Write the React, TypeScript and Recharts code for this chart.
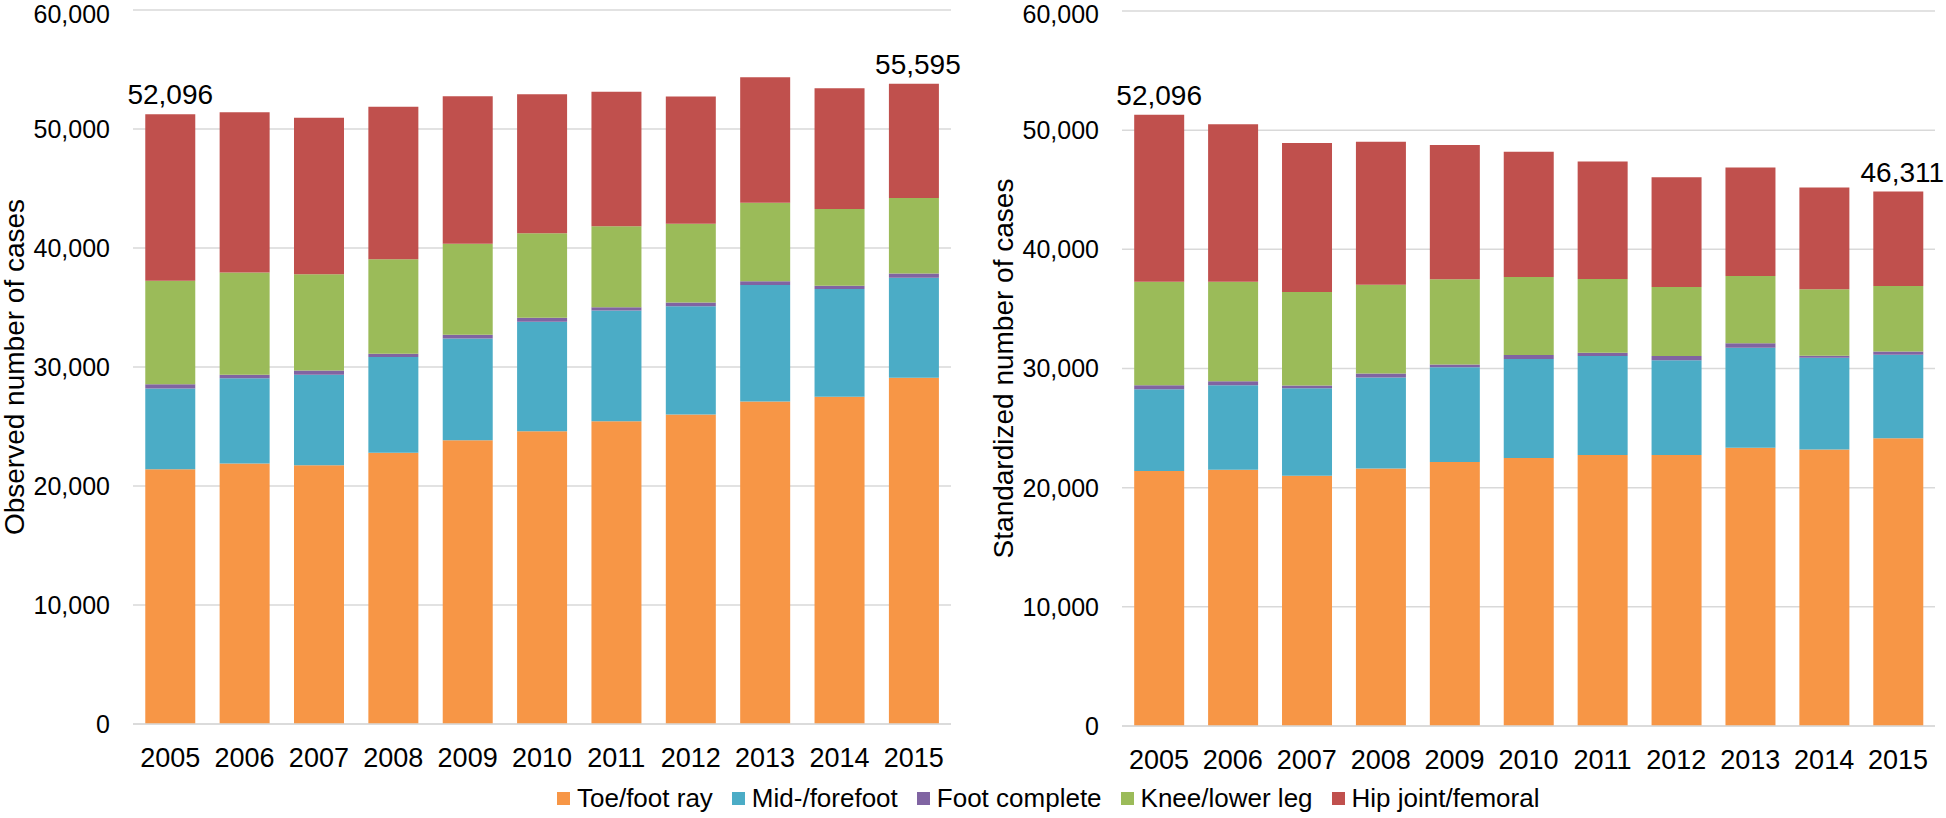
import React from "react";
import { BarChart, Bar, XAxis, YAxis, CartesianGrid, LabelList } from "recharts";

const years = ["2005", "2006", "2007", "2008", "2009", "2010", "2011", "2012", "2013", "2014", "2015"];

const seriesNames = ["Toe/foot ray", "Mid-/forefoot", "Foot complete", "Knee/lower leg", "Hip joint/femoral"];
const seriesKeys = ["toe", "mid", "foot", "knee", "hip"];
const COLORS = ["#F79646", "#4BACC6", "#8064A2", "#9BBB59", "#C0504D"];

// observed cases
const obsToe = [21400, 21900, 21750, 22800, 23850, 24600, 25450, 26000, 27100, 27500, 29100];
const obsMid = [6800, 7150, 7600, 8050, 8550, 9200, 9300, 9100, 9800, 9050, 8400];
const obsFoot = [350, 300, 350, 260, 300, 330, 280, 330, 300, 280, 360];
const obsKnee = [8700, 8600, 8100, 7950, 7650, 7100, 6800, 6600, 6600, 6450, 6350];
const obsHip = [14000, 13450, 13150, 12800, 12400, 11700, 11300, 10700, 10550, 10150, 9600];
const obsTopLabels = ["52,096", "", "", "", "", "", "", "", "", "", "55,595"];

// standardized cases
const stdToe = [21400, 21500, 21000, 21600, 22150, 22500, 22750, 22750, 23350, 23200, 24150];
const stdMid = [6850, 7100, 7350, 7650, 7950, 8300, 8300, 7950, 8400, 7700, 7000];
const stdFoot = [340, 340, 230, 330, 230, 330, 280, 340, 360, 180, 280];
const stdKnee = [8700, 8350, 7850, 7450, 7150, 6550, 6180, 5800, 5650, 5570, 5500];
const stdHip = [14000, 13200, 12500, 12000, 11270, 10500, 9870, 9200, 9100, 8530, 7920];
const stdTopLabels = ["52,096", "", "", "", "", "", "", "", "", "", "46,311"];

const yTicks = [0, 10000, 20000, 30000, 40000, 50000, 60000];

const FONT = "'Liberation Sans', Arial, sans-serif";

function buildRows(toe: number[], mid: number[], foot: number[], knee: number[], hip: number[], tops: string[]) {
  return years.map((year, i) => ({
    year,
    toe: toe[i],
    mid: mid[i],
    foot: foot[i],
    knee: knee[i],
    hip: hip[i],
    topLabel: tops[i],
  }));
}

const observedData = buildRows(obsToe, obsMid, obsFoot, obsKnee, obsHip, obsTopLabels);
const standardizedData = buildRows(stdToe, stdMid, stdFoot, stdKnee, stdHip, stdTopLabels);

const TopLabel = (props: any) => {
  const { x, y, width, value, index } = props;
  if (!value) return null;
  // the closing label sits a touch right of its bar in the original
  const shift = index === years.length - 1 ? 4 : 0;
  return (
    <text x={Number(x) + Number(width) / 2 + shift} y={Number(y) - 10} textAnchor="middle" fontSize={28} fill="#000" fontFamily={FONT}>
      {value}
    </text>
  );
};

function AxisTitle({ viewBox, value, dx }: any) {
  if (!viewBox) return null;
  const cx = viewBox.x + dx;
  const cy = viewBox.y + viewBox.height / 2;
  return (
    <text
      x={cx}
      y={cy}
      transform={`rotate(-90 ${cx} ${cy})`}
      textAnchor="middle"
      dominantBaseline="central"
      fontSize={28}
      fill="#000"
      fontFamily={FONT}
    >
      {value}
    </text>
  );
}

interface PanelProps {
  data: any[];
  title: string;
  width: number;
  axisWidth: number;
  titleDx: number;
  margin: { top: number; right: number; bottom: number; left: number };
}

function Panel({ data, title, width, axisWidth, titleDx, margin }: PanelProps) {
  return (
    <BarChart width={width} height={818} data={data} margin={margin} barCategoryGap="16.5%">
      <CartesianGrid vertical={false} stroke="#D9D9D9" strokeWidth={1.5} />
      <XAxis
        dataKey="year"
        height={60}
        tickLine={false}
        tickSize={0}
        tickMargin={24}
        axisLine={{ stroke: "#D9D9D9", strokeWidth: 1.5 }}
        tick={{ fontSize: 27, fill: "#000", fontFamily: FONT }}
        interval={0}
      />
      <YAxis
        width={axisWidth}
        domain={[0, 60000]}
        ticks={yTicks}
        tickLine={false}
        tickSize={0}
        tickMargin={23}
        axisLine={false}
        tick={{ fontSize: 25, fill: "#000", fontFamily: FONT }}
        tickFormatter={(v) => Number(v).toLocaleString("en-US")}
        label={{ value: title, content: (p: any) => <AxisTitle {...p} value={title} dx={titleDx} /> }}
      />
      {seriesKeys.map((key, i) => (
        <Bar key={key} dataKey={key} name={seriesNames[i]} stackId="a" fill={COLORS[i]} isAnimationActive={false}>
          {i === seriesKeys.length - 1 && <LabelList dataKey="topLabel" content={TopLabel} />}
        </Bar>
      ))}
    </BarChart>
  );
}

export default function App() {
  return (
    <div style={{ position: "absolute", left: 0, top: 0, width: 1946, height: 818, background: "#fff", fontFamily: FONT }}>
      <div style={{ position: "absolute", left: 0, top: 0 }}>
        <Panel
          data={observedData}
          title="Observed number of cases"
          width={975}
          axisWidth={133}
          titleDx={14}
          margin={{ top: 10, right: 24, bottom: 34, left: 0 }}
        />
      </div>
      <div style={{ position: "absolute", left: 975, top: 0 }}>
        <Panel
          data={standardizedData}
          title="Standardized number of cases"
          width={971}
          axisWidth={147}
          titleDx={28}
          margin={{ top: 11, right: 11, bottom: 32, left: 0 }}
        />
      </div>
      <div
        style={{
          position: "absolute",
          left: 557,
          top: 784,
          height: 29,
          display: "flex",
          alignItems: "center",
          fontSize: 26,
          lineHeight: "29px",
          color: "#000",
          whiteSpace: "nowrap",
        }}
      >
        {seriesNames.map((name, i) => (
          <div key={name} style={{ display: "flex", alignItems: "center", marginRight: 19 }}>
            <span style={{ display: "inline-block", width: 13, height: 13, background: COLORS[i], marginRight: 7 }} />
            <span>{name}</span>
          </div>
        ))}
      </div>
    </div>
  );
}
